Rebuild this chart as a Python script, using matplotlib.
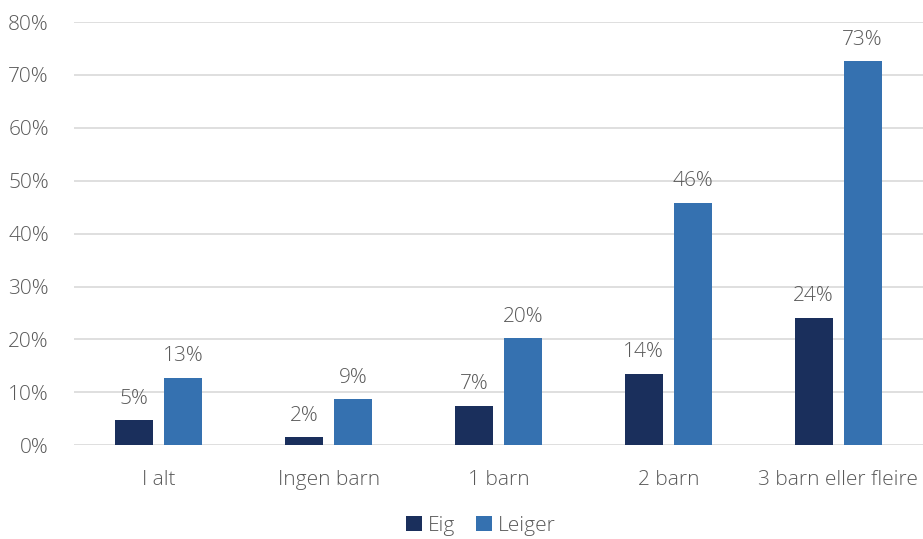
import matplotlib
matplotlib.use("Agg")
import matplotlib.pyplot as plt
import numpy as np

categories = ["I alt", "Ingen barn", "1 barn", "2 barn", "3 barn eller fleire"]
eig = [4.7, 1.5, 7.4, 13.5, 24.1]
leiger = [12.7, 8.7, 20.2, 45.8, 72.6]
yticks = [0, 10, 20, 30, 40, 50, 60, 70, 80]

plt.rcParams['font.family'] = ['Open Sans', 'DejaVu Sans']
plt.rcParams['font.weight'] = 'light'
txt = '#595959'
fs = 15

fig = plt.figure(figsize=(9.23, 5.39), dpi=100)
ax = fig.add_axes([0.080, 0.174, 0.920, 0.785])
x = np.arange(len(categories))
w = 0.224
off = 0.144
b1 = ax.bar(x - off, eig, w, color='#1a2f5c', label='Eig', zorder=3)
b2 = ax.bar(x + off, leiger, w, color='#3571b0', label='Leiger', zorder=3)
for bars, vals in ((b1, eig), (b2, leiger)):
    for r, v in zip(bars, vals):
        ax.text(r.get_x() + r.get_width() / 2, v + 2.2, f"{round(v):.0f}%",
                ha='center', va='bottom', fontsize=fs, color=txt, fontweight='light')
ax.set_xlim(-0.5, len(categories) - 0.5)
ax.set_ylim(0, 80)
ax.set_yticks(yticks)
ax.set_yticklabels([f"{t}%" for t in yticks], fontweight='light')
ax.set_xticks(x)
ax.set_xticklabels(categories, fontweight='light')
ax.tick_params(axis='both', length=0, labelsize=fs, colors=txt)
ax.tick_params(axis='x', pad=18)
ax.tick_params(axis='y', pad=18)
ax.grid(axis='y', color='#d9d9d9', linewidth=1.2, zorder=0)
for s in ax.spines.values():
    s.set_visible(False)
fig.legend(loc='center', bbox_to_anchor=(0.521, 0.025), ncol=2, frameon=False,
           prop={'size': fs, 'weight': 'light'}, labelcolor=txt,
           handlelength=0.75, handleheight=0.75,
           handletextpad=0.3, columnspacing=1.0)
fig.savefig('out.png', dpi=100)
